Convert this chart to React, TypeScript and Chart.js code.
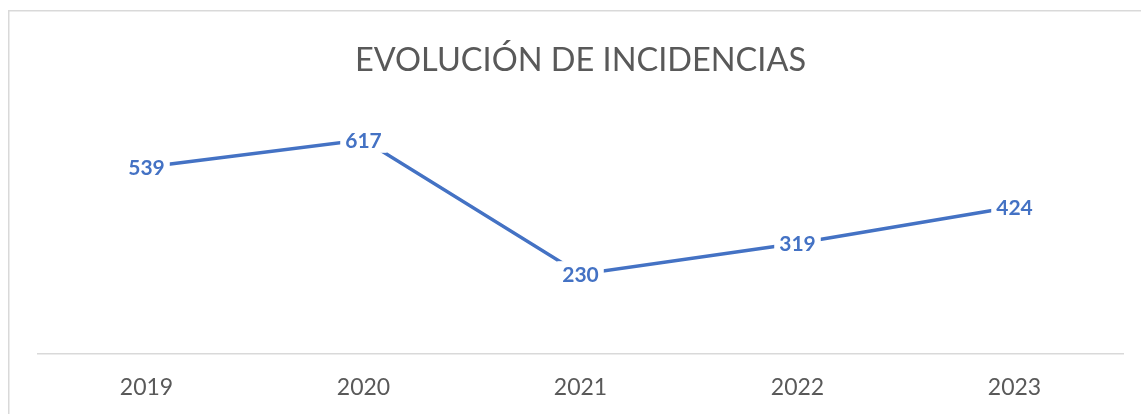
import React, { useEffect, useRef } from "react";
import { Chart, registerables } from "chart.js";

Chart.register(...registerables);

const TITLE = "EVOLUCIÓN DE INCIDENCIAS";
const CATEGORIES = ["2019", "2020", "2021", "2022", "2023"];
const INCIDENCIAS = [539, 617, 230, 319, 424];
const Y_MIN = 0;
const Y_MAX = 700;

const LINE_COLOR = "#4472C4";
const TEXT_COLOR = "#595959";
const BORDER_COLOR = "#D9D9D9";

const frameBorder = {
  id: "frameBorder",
  beforeDraw(chart: any) {
    const ctx = chart.ctx;
    ctx.save();
    ctx.fillStyle = "#ffffff";
    ctx.fillRect(0, 0, chart.width, chart.height);
    ctx.strokeStyle = BORDER_COLOR;
    ctx.lineWidth = 1.5;
    ctx.beginPath();
    ctx.moveTo(8.75, chart.height + 2);
    ctx.lineTo(8.75, 10.75);
    ctx.lineTo(chart.width + 2, 10.75);
    ctx.stroke();
    ctx.restore();
  },
};

const pointLabels = {
  id: "pointLabels",
  afterDatasetsDraw(chart: any) {
    const ctx = chart.ctx;
    const ds = chart.data.datasets[0];
    const meta = chart.getDatasetMeta(0);
    ctx.save();
    ctx.font = "bold 21px Lato";
    ctx.textAlign = "center";
    ctx.textBaseline = "middle";
    meta.data.forEach((pt: any, i: number) => {
      const txt = String(ds.data[i]);
      const w = ctx.measureText(txt).width;
      const h = 18;
      ctx.fillStyle = "#ffffff";
      ctx.fillRect(pt.x - w / 2 - 5, pt.y - h / 2 - 4, w + 10, h + 8);
      ctx.fillStyle = LINE_COLOR;
      ctx.fillText(txt, pt.x, pt.y + 1);
    });
    ctx.restore();
  },
};

export default function App() {
  const ref = useRef<HTMLCanvasElement | null>(null);

  useEffect(() => {
    if (!ref.current) return;
    const chart = new Chart(ref.current, {
      type: "line",
      data: {
        labels: CATEGORIES,
        datasets: [
          {
            data: INCIDENCIAS,
            borderColor: LINE_COLOR,
            borderWidth: 3.5,
            pointRadius: 0,
            tension: 0,
            fill: false,
          },
        ],
      },
      options: {
        animation: false,
        responsive: false,
        maintainAspectRatio: false,
        layout: { padding: { left: 38, right: 18, top: 0, bottom: 0 } },
        plugins: {
          legend: { display: false },
          tooltip: { enabled: false },
          title: {
            display: true,
            text: TITLE,
            color: TEXT_COLOR,
            font: { family: "Lato", size: 32.5, weight: "normal" },
            padding: { top: 41, bottom: 31 },
          },
        },
        scales: {
          x: {
            offset: true,
            grid: { display: false, drawTicks: false },
            border: { display: true, color: BORDER_COLOR, width: 1.5 },
            ticks: {
              color: TEXT_COLOR,
              font: { family: "Lato", size: 23 },
              padding: 20,
            },
            afterFit: (s: any) => {
              s.height = 60;
            },
          },
          y: {
            display: false,
            min: Y_MIN,
            max: Y_MAX,
          },
        },
      },
      plugins: [frameBorder, pointLabels],
    });
    return () => chart.destroy();
  }, []);

  return (
    <div style={{ position: "fixed", left: 0, top: 0, width: 1141, height: 414 }}>
      <canvas ref={ref} width={1141} height={414} style={{ display: "block" }} />
    </div>
  );
}
